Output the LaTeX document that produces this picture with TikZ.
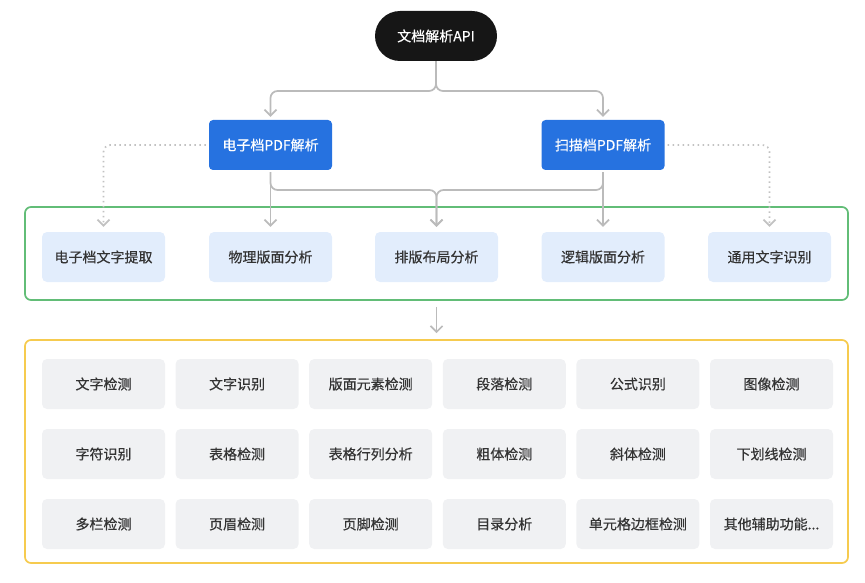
\documentclass[tikz,border=0pt]{standalone}
\usepackage{fontspec}
\setmainfont{Noto Sans CJK SC}
\newfontfamily\cjkmed{Noto Sans CJK SC}[FakeBold=0.45]
\usepackage{xcolor}
\usetikzlibrary{arrows.meta, positioning, calc}

\definecolor{apiblack}{HTML}{161616}
\definecolor{pdfblue}{HTML}{2672E0}
\definecolor{lightblue}{HTML}{E2EDFC}
\definecolor{boxgray}{HTML}{F0F1F3}
\definecolor{framegreen}{HTML}{62BD77}
\definecolor{frameyellow}{HTML}{F6CB4F}
\definecolor{linegray}{HTML}{BBBBBB}
\definecolor{dotgray}{HTML}{C2C2C2}
\definecolor{textgray}{HTML}{333333}

\newcommand{\moredots}{...}

\tikzset{
  cnfont/.style={font=\cjkmed\fontsize{14}{16}\selectfont},
  apinode/.style={cnfont, fill=apiblack, text=white, rounded corners=25pt,
    minimum width=122pt, minimum height=50pt, inner sep=0pt},
  pdfnode/.style={cnfont, fill=pdfblue, text=white, rounded corners=4pt,
    minimum width=123pt, minimum height=50pt, inner sep=0pt},
  modnode/.style={cnfont, fill=lightblue, text=textgray, rounded corners=5pt,
    minimum width=123pt, minimum height=50pt, inner sep=0pt},
  subnode/.style={cnfont, fill=boxgray, text=textgray, rounded corners=5pt,
    minimum width=123pt, minimum height=50pt, inner sep=0pt},
  frame/.style={draw=#1, line width=1.7pt, rounded corners=6pt, inner sep=0pt},
  conn/.style={draw=linegray, line width=1.7pt, rounded corners=7pt,
    -{Straight Barb[length=6pt, width=12pt]}},
  dotconn/.style={draw=dotgray, line width=1.7pt, rounded corners=7pt,
    dash pattern=on 1.5pt off 3.5pt, -{Straight Barb[length=6pt, width=12pt]}}
}

\begin{document}
\begin{tikzpicture}[x=1pt, y=-1pt]
  \useasboundingbox (0,0) rectangle (865,583);

  % top level
  \node[apinode] (api) at (436,36) {文档解析API};
  \node[pdfnode] (epdf) at (270.5,145) {电子档PDF解析};
  \node[pdfnode] (spdf) at (603,145) {扫描档PDF解析};

  % module layer
  \node[frame=framegreen, minimum width=823pt, minimum height=93pt] (modframe) at (436.5,253.5) {};
  \foreach \name/\x/\lbl in {m1/103.5/电子档文字提取, m2/270.5/物理版面分析,
      m3/436.5/排版布局分析, m4/603/逻辑版面分析, m5/769.5/通用文字识别} {
    \node[modnode] (\name) at (\x,257) {\lbl};
  }

  % sub-task layer
  \node[frame=frameyellow, minimum width=823pt, minimum height=223pt] (subframe) at (436.5,451.5) {};
  \foreach \lbl [count=\i from 0] in {文字检测, 文字识别, 版面元素检测, 段落检测, 公式识别, 图像检测,
      字符识别, 表格检测, 表格行列分析, 粗体检测, 斜体检测, 下划线检测,
      多栏检测, 页眉检测, 页脚检测, 目录分析, 单元格边框检测, 其他辅助功能\moredots} {
    \pgfmathtruncatemacro{\col}{mod(\i,6)}
    \pgfmathtruncatemacro{\row}{int(\i/6)}
    \node[subnode] (g\i) at ({103.5+\col*133.6},{384+\row*70}) {\lbl};
  }

  % connectors
  \coordinate (apisplit) at (436,91);
  \coordinate (pdfjoin) at (436.5,190);
  \draw[conn, shorten >=3pt] (api.south) -- (apisplit) -| (epdf.north);
  \draw[conn, shorten >=3pt] (api.south) -- (apisplit) -| (spdf.north);
  \draw[conn, shorten >=5pt, shorten <=2pt] (epdf.south) -- (m2.north);
  \draw[conn, shorten >=5pt, shorten <=2pt] (spdf.south) -- (m4.north);
  \draw[conn, shorten >=5pt, shorten <=2pt] (epdf.south) |- (pdfjoin) -- (m3.north);
  \draw[conn, shorten >=5pt, shorten <=2pt] (spdf.south) |- (pdfjoin) -- (m3.north);
  \draw[dotconn, shorten >=5pt, shorten <=3pt] (epdf.west) -| (m1.north);
  \draw[dotconn, shorten >=5pt, shorten <=3pt] (spdf.east) -| (m5.north);
  \draw[conn, shorten >=6pt, shorten <=6pt] (modframe.south) -- (subframe.north);
\end{tikzpicture}
\end{document}
